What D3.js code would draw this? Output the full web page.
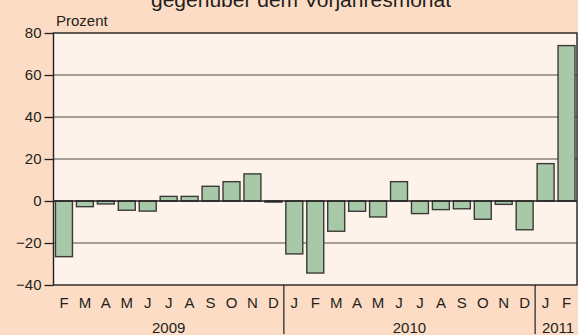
<!DOCTYPE html>
<html>
<head>
<meta charset="utf-8">
<script src="https://cdn.jsdelivr.net/npm/d3@7"></script>
<style>
  html, body { margin: 0; padding: 0; background: #fcdcc4; }
  svg { display: block; font-family: "Liberation Sans", Arial, sans-serif; }
</style>
</head>
<body>
<script>
// Monthly change against the same month of the previous year, Feb 2009 – Feb 2011
const months = ["F","M","A","M","J","J","A","S","O","N","D",
                "J","F","M","A","M","J","J","A","S","O","N","D",
                "J","F"];
const years = [
  { label: "2009", count: 11 },
  { label: "2010", count: 12 },
  { label: "2011", count: 2 }
];
const values = [-26.5, -2.7, -1.4, -4.4, -4.8, 2.2, 2.2, 7.0, 9.2, 12.9, -0.5,
                -25.2, -34.3, -14.4, -4.9, -7.6, 9.2, -6.0, -4.1, -3.7, -8.7, -1.6, -13.7,
                17.8, 74.0];
const yTicks = [80, 60, 40, 20, 0, -20, -40];

const W = 578, H = 335;
const m = { left: 53.5, right: 1, top: 33, bottom: 50 };
const iw = W - m.left - m.right, ih = H - m.top - m.bottom;

const svg = d3.select("body").append("svg").attr("width", W).attr("height", H);

svg.append("text")
  .attr("x", 301).attr("y", 7)
  .attr("text-anchor", "middle")
  .attr("font-size", 21).attr("fill", "#231f20")
  .text("gegenüber dem Vorjahresmonat");

const g = svg.append("g").attr("transform", `translate(${m.left},${m.top})`);

const idx = d3.range(values.length);
const x = d3.scaleBand().domain(idx).range([0, iw]).paddingInner(0.19).paddingOuter(0.095);
const y = d3.scaleLinear().domain([-40, 80]).range([ih, 0]);

g.append("rect").attr("width", iw).attr("height", ih).attr("fill", "#fef3ea");

// horizontal grid
g.selectAll(".grid").data(yTicks.filter(t => t !== 0 && t !== 80 && t !== -40)).join("line")
  .attr("x1", 0).attr("x2", iw)
  .attr("y1", d => y(d)).attr("y2", d => y(d))
  .attr("stroke", "#8a817c").attr("stroke-width", 1.3);

// bars
g.selectAll(".bar").data(values).join("rect")
  .attr("x", (d, i) => x(i))
  .attr("width", x.bandwidth())
  .attr("y", d => y(Math.max(0, d)))
  .attr("height", d => Math.abs(y(d) - y(0)))
  .attr("fill", "#a8c9a8")
  .attr("stroke", "#3b3a38").attr("stroke-width", 1.4);

// zero line
g.append("line").attr("x1", 0).attr("x2", iw)
  .attr("y1", y(0)).attr("y2", y(0))
  .attr("stroke", "#231f20").attr("stroke-width", 1.4);

// frame
g.append("rect").attr("width", iw).attr("height", ih)
  .attr("fill", "none").attr("stroke", "#231f20").attr("stroke-width", 1.4);

// y axis
const yAxis = d3.axisLeft(y).tickValues(yTicks).tickSize(9).tickPadding(3).tickFormat(d3.format("d"));
const ya = g.append("g").call(yAxis);
ya.select(".domain").remove();
ya.selectAll("line").attr("stroke", "#231f20").attr("stroke-width", 1.3);
ya.selectAll("text").attr("font-size", 15).attr("fill", "#231f20")
  .attr("font-family", "'Liberation Sans', Arial, sans-serif");

svg.append("text").attr("x", 56).attr("y", 26)
  .attr("font-size", 15).attr("fill", "#231f20").text("Prozent");

// month labels
g.selectAll(".mon").data(months).join("text")
  .attr("x", (d, i) => x(i) + x.bandwidth() / 2)
  .attr("y", ih + 23)
  .attr("text-anchor", "middle")
  .attr("font-size", 15).attr("fill", "#231f20")
  .text(d => d);

// year labels and separators
const step = x.step();
const start0 = x(0) - x.paddingOuter() * step;
let acc = 0;
years.forEach((yr, k) => {
  const x0 = start0 + acc * step, x1 = start0 + (acc + yr.count) * step;
  if (k > 0) {
    g.append("line").attr("x1", x0).attr("x2", x0)
      .attr("y1", ih).attr("y2", ih + 49)
      .attr("stroke", "#231f20").attr("stroke-width", 1.2);
  }
  g.append("text")
    .attr("x", (x0 + x1) / 2 + (k === 2 ? 2 : 0)).attr("y", ih + 48)
    .attr("text-anchor", "middle")
    .attr("font-size", 15).attr("fill", "#231f20")
    .text(yr.label);
  acc += yr.count;
});
</script>
</body>
</html>
